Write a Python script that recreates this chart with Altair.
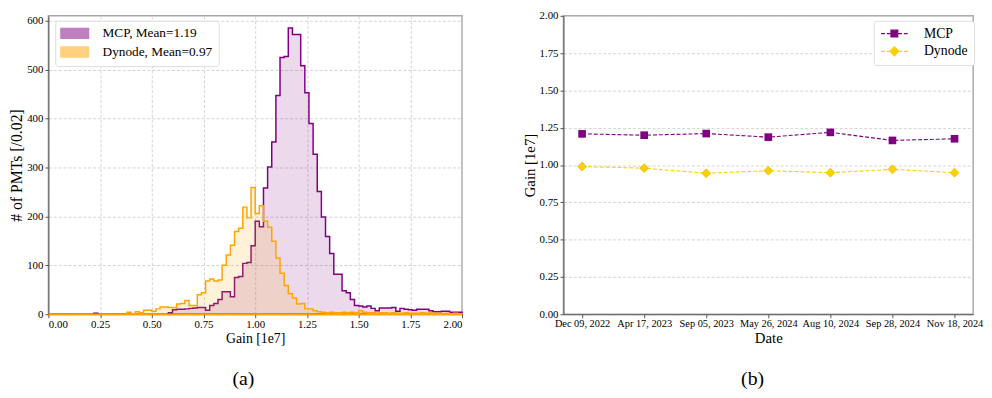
import altair as alt
import pandas as pd

FONT = "Liberation Serif"

# ---------------- panel (a): gain histograms, bin width 0.02 on [0, 2] ----------------
bin_width = 0.02
n_bins = 100
mcp_counts = [
    0, 0, 0, 0, 0, 0, 0, 0, 0, 0,
    0, 2, 0, 0, 0, 0, 0, 0, 0, 0,
    0, 0, 0, 0, 0, 0, 0, 0, 0, 3,
    9, 10, 10, 11, 12, 13, 14, 14, 8, 18,
    22, 30, 46, 46, 36, 75, 77, 104, 106, 140,
    190, 179, 258, 301, 352, 447, 525, 527, 585, 572,
    572, 508, 453, 390, 327, 251, 199, 159, 124, 82,
    82, 48, 44, 30, 18, 17, 15, 17, 12, 7,
    13, 13, 13, 14, 6, 12, 10, 9, 8, 10,
    10, 10, 7, 5, 5, 6, 6, 4, 4, 4,
]
dyn_counts = [
    0, 0, 0, 0, 0, 0, 0, 0, 0, 0,
    0, 0, 0, 0, 0, 0, 0, 0, 0, 4,
    1, 5, 3, 8, 8, 6, 11, 15, 15, 14,
    14, 21, 22, 28, 18, 18, 40, 44, 68, 72,
    68, 70, 100, 121, 141, 169, 176, 219, 197, 259,
    206, 222, 190, 178, 149, 115, 84, 59, 42, 33,
    21, 22, 11, 11, 7, 5, 4, 3, 4, 3,
    3, 4, 3, 4, 3, 7, 4, 3, 3, 2,
    3, 3, 2, 3, 2, 2, 3, 2, 2, 2,
    3, 2, 3, 2, 2, 1, 2, 1, 2, 1,
]
hist_series = ["MCP, Mean=1.19", "Dynode, Mean=0.97"]
hist_colors = ["#800080", "#FFA500"]
x_ticks_a = [0.0, 0.25, 0.5, 0.75, 1.0, 1.25, 1.5, 1.75, 2.0]
y_ticks_a = [0, 100, 200, 300, 400, 500, 600]

# ---------------- panel (b): gain vs date ----------------
dates = ["Dec 09, 2022", "Apr 17, 2023", "Sep 05, 2023", "May 26, 2024",
         "Aug 10, 2024", "Sep 28, 2024", "Nov 18, 2024"]
mcp_gain = [1.209, 1.200, 1.211, 1.187, 1.219, 1.165, 1.176]
dyn_gain = [0.990, 0.979, 0.945, 0.962, 0.949, 0.971, 0.949]
line_series = ["MCP", "Dynode"]
line_colors = ["#800080", "#FFD000"]
y_ticks_b = [0.0, 0.25, 0.5, 0.75, 1.0, 1.25, 1.5, 1.75, 2.0]

# ---------------- tables ----------------
rows = []
for name, counts in zip(hist_series, [mcp_counts, dyn_counts]):
    for i in range(n_bins + 1):
        rows.append({"series": name,
                     "edge": round(i * bin_width, 4),
                     "count": counts[min(i, n_bins - 1)]})
hist_df = pd.DataFrame(rows)
hist_leg_df = pd.DataFrame({"series": hist_series})

line_rows = []
for name, vals in zip(line_series, [mcp_gain, dyn_gain]):
    for d, v in zip(dates, vals):
        line_rows.append({"series": name, "date": d, "gain": v})
line_df = pd.DataFrame(line_rows)
line_leg_df = pd.DataFrame({"series": line_series})

# ---------------- panel (a) ----------------
x_a = alt.X("edge:Q",
            scale=alt.Scale(domain=[0, 2], nice=False, zero=False),
            axis=alt.Axis(values=x_ticks_a, format=".2f", title="Gain [1e7]"))
y_a = alt.Y("count:Q", stack=None,
            scale=alt.Scale(domain=[0, 610], nice=False),
            axis=alt.Axis(values=y_ticks_a, format="d", title="# of PMTs [/0.02]",
                          titleFontSize=16, labelPadding=2))


def hist_layer(name, color):
    return alt.Chart(hist_df).transform_filter(
        alt.datum.series == name
    ).mark_area(
        interpolate="step-after", fill=color, fillOpacity=0.15,
        stroke=color, strokeWidth=1.5, strokeJoin="miter",
    ).encode(x=x_a, y=y_a)


hist_scale = alt.Scale(domain=hist_series, range=hist_colors)
rect_path = "M-2.8,-1L2.8,-1L2.8,1L-2.8,1Z"
hist_legend = alt.Legend(
    title=None, orient="none", legendX=7, legendY=5,
    symbolType=rect_path, symbolSize=100, symbolStrokeWidth=1.5,
    symbolOpacity=0.5, symbolOffset=7, labelOffset=21.5,
    labelFont=FONT, labelFontSize=13.5, labelColor="black", labelLimit=400,
    padding=6, rowPadding=2, strokeColor="#dddddd", fillColor="white",
    cornerRadius=3,
)
hist_leg_layer = alt.Chart(hist_leg_df).mark_point(filled=True).encode(
    color=alt.Color("series:N", scale=hist_scale, legend=hist_legend),
    stroke=alt.Stroke("series:N", scale=hist_scale, legend=hist_legend),
    opacity=alt.value(0),
)

panel_a = alt.layer(
    hist_layer(hist_series[0], hist_colors[0]),
    hist_layer(hist_series[1], hist_colors[1]),
    hist_leg_layer,
).properties(
    width=420, height=303,
    title=alt.TitleParams("(a)", orient="bottom", anchor="middle", frame="group",
                          dx=-12, offset=24, font=FONT, fontSize=20,
                          fontWeight="normal", color="black"),
)

# ---------------- panel (b) ----------------
x_b = alt.X("date:N", sort=dates,
            scale=alt.Scale(type="point", padding=0.3),
            axis=alt.Axis(labelAngle=0, title="Date", labelOverlap=False,
                          labelFontSize=10.5, titleFontSize=15))
y_b = alt.Y("gain:Q",
            scale=alt.Scale(domain=[0, 2], nice=False),
            axis=alt.Axis(values=y_ticks_b, format=".2f", title="Gain [1e7]",
                          titleFontSize=15, labelPadding=2))


def series_line(name, color):
    return alt.Chart(line_df).transform_filter(
        alt.datum.series == name
    ).mark_line(strokeDash=[4, 2], strokeWidth=1.1, color=color).encode(x=x_b, y=y_b)


mcp_pts = alt.Chart(line_df).transform_filter(
    alt.datum.series == "MCP"
).mark_point(shape="square", filled=True, size=60, opacity=1,
             color=line_colors[0]).encode(x=x_b, y=y_b)
dyn_pts = alt.Chart(line_df).transform_filter(
    alt.datum.series == "Dynode"
).mark_point(shape="diamond", filled=True, size=80, opacity=1,
             fill=line_colors[1], stroke="#E6B800", strokeWidth=0.8).encode(x=x_b, y=y_b)

line_scale = alt.Scale(domain=line_series, range=line_colors)
mcp_path = ("M-2.8,0L-2.0,0M-1.6,0L-0.84,0M0.84,0L1.6,0M2.0,0L2.8,0"
            "M-0.72,-0.72L0.72,-0.72L0.72,0.72L-0.72,0.72Z")
dyn_path = ("M-2.8,0L-2.0,0M-1.6,0L-1.0,0M1.0,0L1.6,0M2.0,0L2.8,0"
            "M0,-0.96L0.92,0L0,0.96L-0.92,0Z")
line_legend = alt.Legend(
    title=None, orient="none", legendX=315, legendY=5,
    symbolSize=93, symbolStrokeWidth=1.2, symbolOpacity=1,
    symbolOffset=8, labelOffset=23,
    labelFont=FONT, labelFontSize=14, labelColor="black",
    padding=6, rowPadding=3, strokeColor="#dddddd", fillColor="white",
    cornerRadius=3,
)
line_leg_layer = alt.Chart(line_leg_df).mark_point(filled=True).encode(
    color=alt.Color("series:N", scale=line_scale, legend=line_legend),
    stroke=alt.Stroke("series:N", scale=line_scale, legend=line_legend),
    shape=alt.Shape("series:N",
                    scale=alt.Scale(domain=line_series, range=[mcp_path, dyn_path]),
                    legend=line_legend),
    opacity=alt.value(0),
)

panel_b = alt.layer(
    series_line("MCP", line_colors[0]),
    series_line("Dynode", line_colors[1]),
    mcp_pts, dyn_pts, line_leg_layer,
).properties(
    width=416, height=303,
    title=alt.TitleParams("(b)", orient="bottom", anchor="middle", frame="group",
                          dx=-16, offset=24, font=FONT, fontSize=20,
                          fontWeight="normal", color="black"),
)

chart = alt.hconcat(panel_a, panel_b, spacing=56).resolve_scale(
    color="independent", stroke="independent", shape="independent"
).properties(
    padding={"left": 0, "top": -2, "right": 0, "bottom": 0},
    background="white",
).configure_axis(
    labelFont=FONT, titleFont=FONT, labelFontSize=11, titleFontSize=14,
    titleFontWeight="normal", labelColor="black", titleColor="black",
    gridColor="#c8c8c8", gridDash=[3, 2], gridWidth=0.8,
    domainColor="#555555", tickColor="#555555", tickSize=3.5,
    labelPadding=1, titlePadding=2,
).configure_view(
    stroke="#aaaaaa", strokeWidth=1.5,
)

chart.save("out.html", embed_options={"renderer": "svg", "actions": False})
